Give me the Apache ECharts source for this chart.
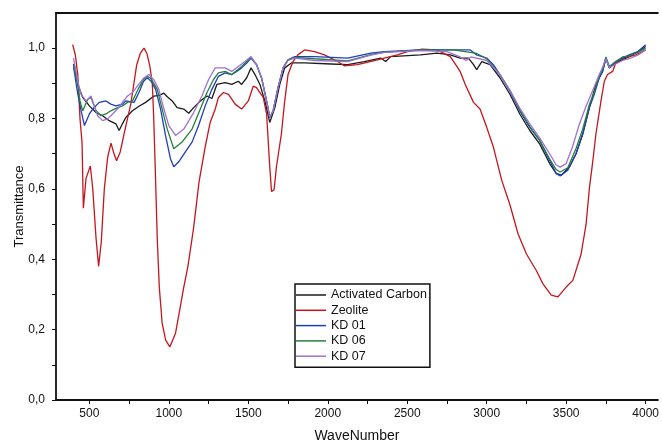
<!DOCTYPE html>
<html>
<head>
<meta charset="utf-8">
<title>FTIR Transmittance</title>
<script src="https://cdn.jsdelivr.net/npm/echarts@6/dist/echarts.min.js"></script>
<style>
  html, body { margin: 0; padding: 0; background: #fff; }
  #chart { width: 662px; height: 448px; }
</style>
</head>
<body>
<div id="chart"></div>
<script>
// series names, in legend order
var seriesNames = ['Activated Carbon', 'Zeolite', 'KD 01', 'KD 06', 'KD 07'];
var seriesColors = ['#1c1c1c', '#c4161c', '#1f3ebd', '#23803c', '#a070d4'];

// axis tick labels
var xLabels = [500, 1000, 1500, 2000, 2500, 3000, 3500, 4000];
var xTicks = [500, 750, 1000, 1250, 1500, 1750, 2000, 2250, 2500, 2750, 3000, 3250, 3500, 3750, 4000];
var yLabels = [0, 0.2, 0.4, 0.6, 0.8, 1.0];
var yTicks = [0, 0.1, 0.2, 0.3, 0.4, 0.5, 0.6, 0.7, 0.8, 0.9, 1.0];

// [wavenumber, transmittance]
var activatedCarbon = [
  [400,0.955],[406,0.948],[427,0.897],[458,0.86],[500,0.836],[542,0.817],[583,0.808],[625,0.794],
  [667,0.785],[687,0.766],[708,0.785],[729,0.803],[771,0.822],[812,0.835],[854,0.846],[906,0.864],
  [940,0.866],[969,0.872],[990,0.862],[1021,0.85],[1052,0.831],[1094,0.827],[1125,0.815],[1156,0.831],
  [1198,0.85],[1240,0.864],[1271,0.857],[1302,0.897],[1354,0.902],[1396,0.897],[1437,0.906],[1458,0.897],
  [1490,0.916],[1517,0.944],[1542,0.925],[1573,0.897],[1604,0.85],[1635,0.789],[1667,0.831],[1698,0.897],
  [1729,0.944],[1771,0.958],[1854,0.958],[2021,0.955],[2125,0.953],[2229,0.962],[2333,0.972],[2364,0.962],
  [2396,0.976],[2583,0.981],[2687,0.986],[2771,0.981],[2833,0.972],[2885,0.972],[2917,0.953],[2937,0.939],
  [2969,0.962],[3021,0.953],[3083,0.916],[3146,0.869],[3208,0.813],[3271,0.766],[3333,0.728],[3396,0.672],
  [3437,0.644],[3469,0.639],[3521,0.663],[3562,0.70],[3604,0.756],[3646,0.831],[3687,0.897],[3729,0.934],
  [3750,0.972],[3771,0.944],[3812,0.958],[3896,0.976],[3950,0.99],[4000,1.005]
];
var zeolite = [
  [395,1.01],[412,0.98],[427,0.925],[441,0.80],[454,0.73],[462,0.545],[479,0.63],[506,0.665],
  [521,0.602],[542,0.46],[558,0.38],[575,0.45],[594,0.60],[615,0.69],[636,0.73],[655,0.70],
  [671,0.68],[694,0.705],[720,0.76],[760,0.84],[798,0.953],[820,0.985],[844,1.0],[862,0.985],
  [880,0.95],[896,0.90],[905,0.80],[915,0.65],[927,0.46],[940,0.32],[958,0.218],[980,0.17],
  [1006,0.151],[1042,0.19],[1070,0.26],[1094,0.321],[1120,0.38],[1156,0.49],[1190,0.62],[1229,0.72],
  [1260,0.789],[1292,0.827],[1312,0.86],[1344,0.874],[1375,0.869],[1396,0.855],[1417,0.841],[1458,0.827],
  [1500,0.85],[1531,0.892],[1552,0.888],[1573,0.874],[1594,0.86],[1615,0.813],[1635,0.663],[1646,0.593],
  [1662,0.597],[1677,0.663],[1708,0.756],[1729,0.85],[1750,0.925],[1781,0.962],[1812,0.981],[1854,0.995],
  [1917,0.99],[1979,0.981],[2062,0.962],[2104,0.95],[2187,0.953],[2312,0.967],[2437,0.981],[2500,0.99],
  [2594,0.997],[2687,0.995],[2771,0.976],[2833,0.934],[2865,0.897],[2917,0.846],[2958,0.827],[3000,0.775],
  [3042,0.719],[3094,0.625],[3146,0.555],[3198,0.471],[3250,0.415],[3312,0.368],[3354,0.33],[3406,0.298],
  [3448,0.293],[3500,0.321],[3542,0.34],[3594,0.415],[3625,0.499],[3646,0.602],[3667,0.677],[3687,0.756],
  [3719,0.85],[3740,0.906],[3760,0.925],[3792,0.934],[3812,0.958],[3854,0.972],[3896,0.976],[3937,0.981],
  [3979,0.99],[4000,0.995]
];
var kd01 = [
  [400,0.948],[427,0.87],[448,0.822],[469,0.78],[500,0.813],[521,0.827],[562,0.846],[604,0.85],
  [635,0.841],[667,0.836],[708,0.841],[729,0.85],[781,0.846],[812,0.874],[840,0.905],[864,0.916],
  [890,0.905],[917,0.883],[948,0.827],[979,0.752],[1010,0.686],[1031,0.663],[1062,0.677],[1104,0.705],
  [1146,0.733],[1187,0.78],[1229,0.836],[1271,0.883],[1312,0.92],[1354,0.93],[1396,0.925],[1427,0.934],
  [1458,0.944],[1490,0.958],[1517,0.972],[1552,0.953],[1583,0.916],[1615,0.85],[1635,0.803],[1656,0.822],
  [1687,0.888],[1719,0.944],[1750,0.967],[1792,0.976],[1917,0.976],[2125,0.972],[2271,0.986],[2354,0.99],
  [2583,0.995],[2792,0.995],[2896,0.995],[2937,0.981],[3000,0.972],[3042,0.953],[3083,0.925],[3146,0.878],
  [3208,0.822],[3271,0.775],[3333,0.738],[3396,0.681],[3437,0.644],[3462,0.637],[3510,0.653],[3562,0.70],
  [3604,0.756],[3646,0.831],[3677,0.869],[3708,0.916],[3729,0.934],[3750,0.972],[3771,0.944],[3812,0.962],
  [3896,0.981],[3950,0.99],[4000,1.01]
];
var kd06 = [
  [400,0.953],[427,0.897],[441,0.85],[458,0.822],[490,0.855],[510,0.86],[542,0.822],[573,0.808],
  [604,0.813],[635,0.822],[677,0.831],[708,0.836],[740,0.846],[771,0.85],[812,0.888],[840,0.91],
  [864,0.92],[885,0.915],[927,0.883],[958,0.827],[990,0.77],[1031,0.714],[1083,0.733],[1146,0.77],
  [1198,0.827],[1240,0.874],[1281,0.911],[1312,0.93],[1354,0.934],[1396,0.925],[1458,0.948],[1517,0.974],
  [1552,0.953],[1583,0.916],[1615,0.85],[1635,0.803],[1656,0.822],[1687,0.888],[1719,0.944],[1750,0.967],
  [1792,0.974],[1917,0.97],[2125,0.964],[2271,0.982],[2354,0.988],[2583,0.995],[2792,0.995],[2937,0.985],
  [3000,0.97],[3083,0.925],[3146,0.88],[3208,0.825],[3271,0.778],[3333,0.738],[3396,0.685],[3437,0.655],
  [3462,0.648],[3510,0.66],[3562,0.715],[3604,0.77],[3646,0.84],[3677,0.875],[3708,0.92],[3729,0.94],
  [3750,0.975],[3771,0.948],[3812,0.962],[3854,0.975],[3896,0.978],[3950,0.988],[4000,1.0]
];
var kd07 = [
  [400,0.972],[427,0.906],[448,0.869],[479,0.85],[510,0.864],[531,0.836],[552,0.808],[583,0.794],
  [615,0.799],[646,0.813],[677,0.827],[708,0.846],[740,0.864],[771,0.874],[802,0.892],[844,0.916],
  [875,0.925],[906,0.91],[937,0.883],[969,0.827],[1000,0.78],[1042,0.752],[1094,0.77],[1156,0.817],
  [1208,0.864],[1250,0.911],[1292,0.944],[1354,0.944],[1396,0.934],[1437,0.948],[1479,0.962],[1517,0.976],
  [1552,0.953],[1583,0.916],[1615,0.85],[1635,0.803],[1656,0.822],[1687,0.888],[1719,0.944],[1750,0.965],
  [1792,0.972],[1917,0.965],[2125,0.962],[2271,0.98],[2354,0.988],[2583,0.993],[2750,0.99],[2833,0.975],
  [2870,0.965],[2900,0.975],[3000,0.965],[3083,0.925],[3146,0.88],[3208,0.83],[3271,0.785],[3333,0.745],
  [3396,0.70],[3437,0.668],[3462,0.662],[3500,0.672],[3540,0.72],[3580,0.78],[3625,0.835],[3667,0.88],
  [3708,0.925],[3729,0.945],[3750,0.97],[3771,0.945],[3812,0.955],[3854,0.965],[3896,0.97],[3950,0.98],
  [4000,0.995]
];

var seriesData = [activatedCarbon, zeolite, kd01, kd06, kd07];
var font = 'Arial, "Liberation Sans", sans-serif';

var chart = echarts.init(document.getElementById('chart'));

var series = seriesNames.map(function (name, i) {
  return {
    name: name,
    type: 'line',
    data: seriesData[i],
    showSymbol: false,
    symbol: 'none',
    color: seriesColors[i],
    lineStyle: { width: 1.3, color: seriesColors[i] },
    z: 2 + i
  };
});

chart.setOption({
  animation: false,
  grid: {
    left: 56,
    right: 0,
    top: 13,
    bottom: 44
  },
  legend: {
    data: seriesNames,
    orient: 'vertical',
    left: 295,
    top: 284,
    icon: 'rect',
    itemWidth: 30,
    itemHeight: 1.5,
    itemGap: 1.3,
    padding: [4, 3, 4, 1],
    borderColor: '#111',
    borderWidth: 1.5,
    textStyle: {
      fontFamily: font,
      fontSize: 12.5,
      color: '#111',
      lineHeight: 14
    }
  },
  xAxis: [{
    type: 'value',
    min: 290,
    max: 4077,
    name: 'WaveNumber',
    nameLocation: 'middle',
    nameGap: 29,
    nameTextStyle: { fontFamily: font, fontSize: 14, color: '#111' },
    axisLine: { lineStyle: { color: '#111', width: 1.8 } },
    axisTick: { show: true, inside: false, length: 4, customValues: xTicks, lineStyle: { color: '#111' } },
    axisLabel: {
      customValues: xLabels,
      margin: 8,
      fontFamily: font,
      fontSize: 12,
      color: '#111',
      formatter: function (v) { return String(v); }
    },
    splitLine: { show: false }
  }, {
    type: 'value',
    position: 'top',
    min: 290,
    max: 4077,
    axisLine: { show: true, lineStyle: { color: '#111', width: 1.8 } },
    axisTick: { show: false },
    axisLabel: { show: false },
    splitLine: { show: false }
  }],
  yAxis: {
    type: 'value',
    min: 0,
    max: 1.1,
    name: 'Transmittance',
    nameLocation: 'middle',
    nameGap: 30,
    nameMoveOverlap: false,
    nameTextStyle: { fontFamily: font, fontSize: 13, color: '#111' },
    axisLine: { show: true, lineStyle: { color: '#111', width: 1.8 } },
    axisTick: { show: true, inside: false, length: 4, customValues: yTicks, lineStyle: { color: '#111' } },
    axisLabel: {
      customValues: yLabels,
      margin: 11,
      fontFamily: font,
      fontSize: 12,
      color: '#111',
      formatter: function (v) { return v.toFixed(1).replace('.', ','); }
    },
    splitLine: { show: false }
  },
  series: series
});
</script>
</body>
</html>
